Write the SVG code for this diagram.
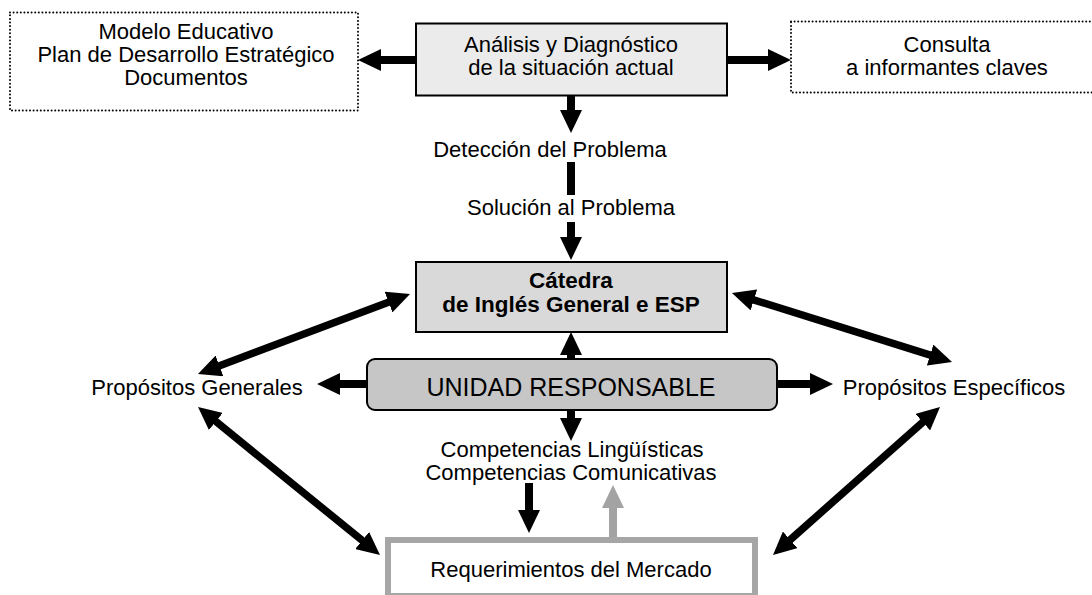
<svg xmlns="http://www.w3.org/2000/svg" width="1092" height="595" viewBox="0 0 1092 595">
<defs>
<style>
text{font-family:"Liberation Sans",Arial,Helvetica,sans-serif;font-size:22px;fill:#000;text-anchor:middle}
.b{font-weight:bold;font-size:22.5px}
.big{font-size:25px}
.dot{fill:#fff;stroke:#000;stroke-width:2;stroke-dasharray:0 3.6;stroke-linecap:round}
.box{stroke:#000;stroke-width:2}
.c{stroke:#000;stroke-width:8;fill:none;marker-end:url(#ah)}
.d{stroke:#000;stroke-width:7.5;fill:none;marker-start:url(#ah);marker-end:url(#ah)}
</style>
<marker id="ah" viewBox="0 0 23 22" markerUnits="userSpaceOnUse" markerWidth="23" markerHeight="22" refX="2" refY="11" orient="auto-start-reverse">
<path d="M0,0 L23,11 L0,22 Z" fill="#000"/>
</marker>
<marker id="ahg" viewBox="0 0 23 22" markerUnits="userSpaceOnUse" markerWidth="23" markerHeight="22" refX="2" refY="11" orient="auto">
<path d="M0,0 L23,11 L0,22 Z" fill="#a3a3a3"/>
</marker>
</defs>
<rect width="1092" height="595" fill="#fff"/>

<g id="connectors">
<line class="c" x1="416" y1="60" x2="379" y2="60"/>
<line class="c" x1="727" y1="60" x2="770" y2="60"/>
<line class="c" x1="571" y1="95" x2="571" y2="112"/>
<line x1="571" y1="162" x2="571" y2="195" stroke="#000" stroke-width="8"/>
<line class="c" x1="571" y1="222" x2="571" y2="239"/>
<line class="c" x1="571" y1="360" x2="571" y2="353"/>
<line class="c" x1="571" y1="409" x2="571" y2="420"/>
<line class="c" x1="367" y1="384" x2="338" y2="384"/>
<line class="c" x1="777" y1="384" x2="812" y2="384"/>
<line class="d" x1="217.6" y1="366.6" x2="390.4" y2="301.4"/>
<line class="d" x1="214.3" y1="420.2" x2="363.7" y2="541.7"/>
<line class="d" x1="752" y1="299.3" x2="932" y2="355.7"/>
<line class="d" x1="924.3" y1="420.9" x2="788.7" y2="541.1"/>
<line class="c" x1="529" y1="483" x2="529" y2="512"/>
<line x1="613" y1="538" x2="613" y2="506" stroke="#a3a3a3" stroke-width="8" marker-end="url(#ahg)"/>
</g>

<g id="documentos">
<rect class="dot" x="10" y="12.5" width="348" height="98"/>
<text x="186" y="39">Modelo Educativo</text>
<text x="186" y="62">Plan de Desarrollo Estratégico</text>
<text x="186" y="85">Documentos</text>
</g>

<g id="analisis">
<rect class="box" x="416" y="23.5" width="311" height="72" fill="#ebebeb"/>
<text x="571" y="51.5">Análisis y Diagnóstico</text>
<text x="571" y="74.5">de la situación actual</text>
</g>

<g id="consulta">
<rect class="dot" x="791" y="21.5" width="320" height="71"/>
<text x="947" y="51.5">Consulta</text>
<text x="947" y="74.5">a informantes claves</text>
</g>

<g id="deteccion">
<text x="550" y="157">Detección del Problema</text>
</g>

<g id="solucion">
<text x="571" y="215">Solución al Problema</text>
</g>

<g id="catedra">
<rect class="box" x="416" y="262" width="311" height="70" fill="#d9d9d9"/>
<text class="b" x="571" y="288">Cátedra</text>
<text class="b" x="571" y="312">de Inglés General e ESP</text>
</g>

<g id="unidad">
<rect class="box" x="367" y="359" width="410" height="51" rx="8" ry="8" fill="#c6c6c6"/>
<text class="big" x="571" y="395.5">UNIDAD RESPONSABLE</text>
</g>

<g id="prop-generales">
<text x="197" y="395">Propósitos Generales</text>
</g>

<g id="prop-especificos">
<text x="954" y="395">Propósitos Específicos</text>
</g>

<g id="competencias">
<text x="572" y="456.5">Competencias Lingüísticas</text>
<text x="571" y="479.5">Competencias Comunicativas</text>
</g>

<g id="requerimientos">
<rect x="388" y="540" width="367" height="56" fill="#fff" stroke="#a6a6a6" stroke-width="6"/>
<text x="571" y="576.5">Requerimientos del Mercado</text>
</g>
</svg>
